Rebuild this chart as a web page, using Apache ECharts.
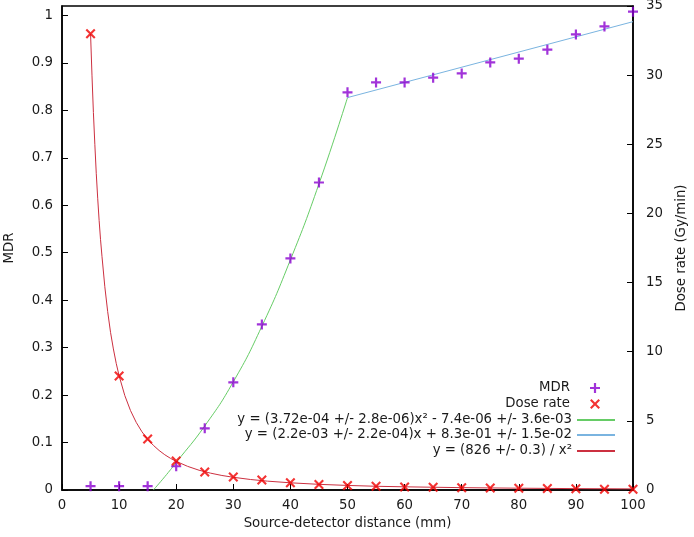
<!DOCTYPE html>
<html>
<head>
<meta charset="utf-8">
<script src="https://cdn.jsdelivr.net/npm/echarts@6/dist/echarts.min.js"></script>
<style>
  html, body { margin: 0; padding: 0; background: #fff; }
  #chart { width: 694px; height: 537px; }
</style>
</head>
<body>
<div id="chart"></div>
<script>
// MDR / dose rate vs source-detector distance (gnuplot style)

const xPoints = [5, 10, 15, 20, 25, 30, 35, 40, 45, 50, 55, 60, 65, 70, 75, 80, 85, 90, 95, 100];
const mdrValues = [0.008, 0.008, 0.008, 0.05, 0.13, 0.227, 0.349, 0.488, 0.648, 0.838, 0.859, 0.859, 0.869, 0.878, 0.901, 0.909, 0.928, 0.96, 0.977, 1.008];
const doseValues = [33.0, 8.24, 3.69, 2.1, 1.3, 0.94, 0.72, 0.52, 0.4, 0.32, 0.27, 0.22, 0.19, 0.16, 0.14, 0.12, 0.1, 0.09, 0.05, 0.05];

// fit curves
const quadFitX = [16, 18, 20, 25, 30, 35, 40, 45, 50];
const quadFitY = [0, 0.028, 0.058, 0.135, 0.228, 0.345, 0.485, 0.645, 0.827];
const linFitX = [50, 100];
const linFitY = [0.827, 0.987];
const doseFitX = [5, 5.25, 5.5, 5.75, 6, 6.25, 6.5, 6.75, 7, 7.5, 8, 8.5, 9, 9.5, 10, 11, 12, 13, 14, 15, 16, 17, 18, 19, 20, 22, 24, 26, 28, 30, 33, 36, 40, 45, 50, 55, 60, 70, 80, 90, 100];
const doseFitY = [33.0, 30.0, 27.3, 25.0, 22.9, 21.1, 19.5, 18.1, 16.9, 14.7, 12.9, 11.4, 10.2, 9.15, 8.26, 6.83, 5.74, 4.89, 4.21, 3.67, 3.23, 2.86, 2.55, 2.29, 2.07, 1.71, 1.43, 1.22, 1.05, 0.92, 0.76, 0.64, 0.52, 0.41, 0.33, 0.27, 0.23, 0.17, 0.13, 0.10, 0.08];

const xTicks = [0, 10, 20, 30, 40, 50, 60, 70, 80, 90, 100];
const mdrTicks = [0, 0.1, 0.2, 0.3, 0.4, 0.5, 0.6, 0.7, 0.8, 0.9, 1];
const doseTicks = [0, 5, 10, 15, 20, 25, 30, 35];

const NAMES = {
  mdr: 'MDR',
  dose: 'Dose rate',
  quad: 'y = (3.72e-04 +/- 2.8e-06)x² - 7.4e-06 +/- 3.6e-03',
  lin: 'y = (2.2e-03 +/- 2.2e-04)x + 8.3e-01 +/- 1.5e-02',
  inv: 'y = (826 +/- 0.3) / x²',
};

const COLORS = {
  mdr: '#8a00d0',
  dose: '#f00000',
  quad: '#66cc66',
  lin: '#7ab4e0',
  inv: '#cc3040',
  text: '#1a1a1a',
};

const FONT = 'DejaVu Sans';
const FS = 13.3;
const PLUS = 'path://M3.9,0H6.1V3.9H10V6.1H6.1V10H3.9V6.1H0V3.9H3.9Z';
const CROSS = 'path://M0,1.5L1.5,0L5,3.5L8.5,0L10,1.5L6.5,5L10,8.5L8.5,10L5,6.5L1.5,10L0,8.5L3.5,5Z';

const zip = (xs, ys) => xs.map((x, i) => [x, ys[i]]);

// one legend per row so every row is right-aligned like gnuplot's key
function lineRow(name, top) {
  return {
    data: [{ name, icon: 'rect' }],
    right: 79,
    top,
    padding: 0,
    align: 'right',
    itemWidth: 38,
    itemHeight: 2,
    selectedMode: false,
    textStyle: { fontFamily: FONT, fontSize: FS, color: COLORS.text },
  };
}

function markerRow(name, icon, top) {
  return {
    data: [{ name, icon }],
    right: 94,
    top,
    padding: 0,
    align: 'right',
    itemWidth: 10,
    itemHeight: 10,
    selectedMode: false,
    textStyle: { fontFamily: FONT, fontSize: FS, color: COLORS.text, padding: [0, 15, 0, 0] },
  };
}

const chart = echarts.init(document.getElementById('chart'), null, { renderer: 'canvas' });

const axisCommon = {
  axisLine: { show: true, lineStyle: { color: '#000', width: 1.5 } },
  axisTick: { show: true, inside: true, length: 6, lineStyle: { color: '#000' } },
  splitLine: { show: false },
  nameTextStyle: { fontFamily: FONT, fontSize: FS, color: COLORS.text },
};

chart.setOption({
  animation: false,
  backgroundColor: '#fff',
  grid: {
    left: 62, right: 61, top: 6, bottom: 47,
    outerBoundsMode: 'none',
    show: true, borderColor: '#000', borderWidth: 1.5,
  },
  legend: [
    markerRow(NAMES.mdr, PLUS, 381.5),
    markerRow(NAMES.dose, CROSS, 397.5),
    lineRow(NAMES.quad, 413.5),
    lineRow(NAMES.lin, 428.5),
    lineRow(NAMES.inv, 444.5),
  ],
  xAxis: {
    ...axisCommon,
    type: 'value',
    min: xTicks[0],
    max: xTicks[xTicks.length - 1],
    interval: 10,
    name: 'Source-detector distance (mm)',
    nameLocation: 'middle',
    nameGap: 23,
    axisLabel: { fontFamily: FONT, fontSize: FS, color: COLORS.text, margin: 9 },
  },
  yAxis: [
    {
      ...axisCommon,
      type: 'value',
      min: 0,
      max: 1.02,
      interval: 0.1,
      name: 'MDR',
      nameLocation: 'middle',
      nameGap: 46,
      axisTick: { ...axisCommon.axisTick, customValues: mdrTicks },
      axisLabel: {
        fontFamily: FONT, fontSize: FS, color: COLORS.text, margin: 9,
        customValues: mdrTicks,
        formatter: (v) => String(Math.round(v * 10) / 10),
      },
    },
    {
      ...axisCommon,
      type: 'value',
      position: 'right',
      min: doseTicks[0],
      max: doseTicks[doseTicks.length - 1],
      interval: 5,
      name: 'Dose rate (Gy/min)',
      nameLocation: 'middle',
      nameGap: 42,
      axisLabel: { fontFamily: FONT, fontSize: FS, color: COLORS.text, margin: 13 },
    },
  ],
  series: [
    {
      name: NAMES.quad, type: 'line', yAxisIndex: 0,
      data: zip(quadFitX, quadFitY), smooth: true, showSymbol: false,
      lineStyle: { color: COLORS.quad, width: 1 }, itemStyle: { color: COLORS.quad }, z: 2,
    },
    {
      name: NAMES.lin, type: 'line', yAxisIndex: 0,
      data: zip(linFitX, linFitY), showSymbol: false,
      lineStyle: { color: COLORS.lin, width: 1 }, itemStyle: { color: COLORS.lin }, z: 2,
    },
    {
      name: NAMES.inv, type: 'line', yAxisIndex: 1,
      data: zip(doseFitX, doseFitY), showSymbol: false,
      lineStyle: { color: COLORS.inv, width: 1 }, itemStyle: { color: COLORS.inv }, z: 2,
    },
    {
      name: NAMES.mdr, type: 'scatter', yAxisIndex: 0,
      data: zip(xPoints, mdrValues), symbol: PLUS, symbolSize: 10,
      itemStyle: { color: COLORS.mdr }, z: 3,
    },
    {
      name: NAMES.dose, type: 'scatter', yAxisIndex: 1,
      data: zip(xPoints, doseValues), symbol: CROSS, symbolSize: 10,
      itemStyle: { color: COLORS.dose }, z: 3,
    },
  ],
});
</script>
</body>
</html>
